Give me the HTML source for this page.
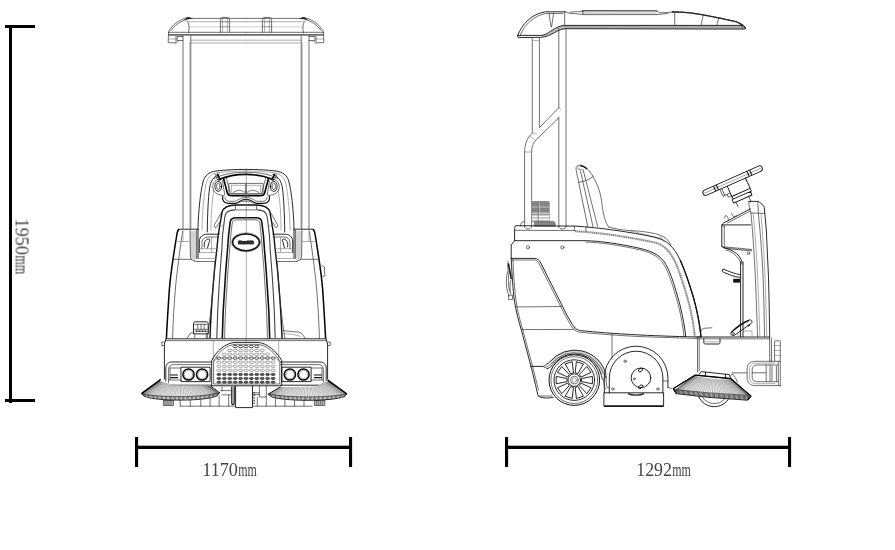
<!DOCTYPE html>
<html><head><meta charset="utf-8"><title>Sweeper dimensions</title>
<style>
html,body{margin:0;padding:0;background:#fff;}
body{width:895px;height:550px;overflow:hidden;font-family:"Liberation Serif",serif;}
svg{display:block}
.k{stroke:#111;stroke-width:.9;fill:none;stroke-linecap:round;stroke-linejoin:round}
.m{stroke:#333;stroke-width:.7;fill:none;stroke-linecap:round;stroke-linejoin:round}
.g{stroke:#777;stroke-width:.6;fill:none;stroke-linecap:round;stroke-linejoin:round}
.b{stroke:#000;stroke-width:1.6;fill:none;stroke-linecap:round;stroke-linejoin:round}
.w{fill:#fff}
</style></head><body>
<svg width="895" height="550" viewBox="0 0 895 550">
<rect width="895" height="550" fill="#fff"/>

<g fill="#000" stroke="none">
<rect x="9" y="25" width="3" height="378"/>
<rect x="5" y="25" width="30" height="3"/>
<rect x="5" y="399" width="30" height="3"/>
<rect x="135" y="445.7" width="217" height="3.3"/>
<rect x="135" y="437" width="3.1" height="30"/>
<rect x="349" y="437" width="3.1" height="30"/>
<rect x="505" y="445.7" width="286" height="3.3"/>
<rect x="505" y="437" width="3.1" height="30"/>
<rect x="788" y="437" width="3.1" height="30"/>
</g>
<g font-family="'Liberation Serif', serif" fill="#454545" font-size="19.6" style="opacity:.999">
<text x="202.2" y="476" textLength="35.8" lengthAdjust="spacingAndGlyphs">1170</text>
<text x="238.3" y="476" textLength="18.6" lengthAdjust="spacingAndGlyphs">mm</text>
<text x="636.2" y="476" textLength="35.8" lengthAdjust="spacingAndGlyphs">1292</text>
<text x="672.3" y="476" textLength="18.6" lengthAdjust="spacingAndGlyphs">mm</text>
<g transform="translate(15.6,218.4) rotate(90)">
<text x="0" y="0" textLength="36.6" lengthAdjust="spacingAndGlyphs">1950</text>
<text x="37" y="0" textLength="18.8" lengthAdjust="spacingAndGlyphs">mm</text>
</g>
</g>

<g><path class="m" d="M168.5,32.3 C170,27 178,19.6 188,17.4 L191,18.4 L246,18.4"/>
<path d="M183.5,20 L188,17 L193.5,18.6 L187,19.6 Z" fill="#222"/>
<path class="m" d="M171,30.5 C174,26 180,21 187,19.6"/>
<path class="g" d="M187.5,21.7 L246,21.7"/>
<path d="M189,26.8 L246,26.8" stroke="#aaa" stroke-width=".6" fill="none"/>
<path class="m" d="M187.5,21.7 C189.5,24 189.5,28 188.5,33"/>
<path class="m" d="M168.5,32.3 L246,32.3"/>
<path d="M168.3,34.9 L246,34.9" stroke="#6a6a6a" stroke-width="1.9" fill="none"/>
<path class="m" d="M168.6,32.3 L168.2,42.5 L176,43 M176,36 L176,43"/>
<path class="m" d="M177.5,36.5 L183,36.5 M178,40.5 L183,40.5 M178,36.5 C176.5,38 176.5,40 178,42"/>
<path class="g" d="M168.5,39 L176,39"/>
<path class="g" d="M190.8,40.2 L246,40.2"/>
<path class="g" d="M190.8,43 L246,43"/>
<path class="m" d="M220.4,32.3 L220.4,19.5 C220.4,17.8 221.5,17.4 223,17.4 L227,17.4 C228.6,17.4 229.6,17.8 229.6,19.5 L229.6,32.3"/>
<path class="g" d="M222.6,17.6 L222.6,32 M227.4,17.6 L227.4,32 M220.4,21.7 L229.6,21.7 M220.4,26.8 L229.6,26.8"/>
<path class="m" d="M183,36 L183,228.5 M190.8,36 L190.8,228.5"/>
<path class="g" d="M189.9,43 L189.9,228"/>
<path class="k" d="M198,258 L198,228 C198.5,210 200.5,192 203,182 C204.5,175.5 209,172 216,171 C226,169.8 236,169.4 246,169.4"/>
<path class="k" d="M207.3,232 C207.5,214 208.2,198 209.6,188 C210.6,181 213.5,176.5 219,174.6"/>
<path class="g" d="M202,230 C202.3,212 204,194 206,184 C207.5,177.5 211,174 217,172.8 C227,171.5 236,171 246,171"/>
<path class="g" d="M211,230 C211,214 212,200 214,190"/>
<path class="b" d="M219,179.6 C228,175.6 237,174.4 246,174.4"/>
<path class="m" d="M214.5,178.5 C224,173.2 236,172.3 246,172.3"/>
<path class="b" d="M223.4,178 L227.3,192.8 C227.8,194.9 229.4,195.7 232,195.7 L246,195.7"/>
<path class="m" d="M226.2,177.6 L229.9,191.8 C230.3,193.4 231.3,194 233,194 L246,194"/>
<path class="m" d="M222.5,180.8 L224.8,195.3"/>
<ellipse class="k" cx="218.3" cy="186.4" rx="3.4" ry="5"/>
<ellipse class="m" cx="218.3" cy="186.4" rx="1.8" ry="3.2"/>
<path class="m" d="M222,178.5 C215,179 212.5,183 212.8,187.5 C213,192 217,195 223.5,195.5"/>
<rect class="m" x="229.3" y="183.4" width="16.7" height="10.4"/>
<path class="g" d="M231.3,185.3 L246,185.3 M231.3,185.3 L231.3,192"/>
<path class="m" d="M233,192.5 C237,190 241,189.5 243,191.5 C244,192.3 245,192.3 246,191.5"/>
<path d="M222.8,196 C221.8,200 224,203.3 228,203.3 L235.5,203.3 C238.5,203.3 239.5,199.3 246,199.3" stroke="#111" stroke-width="1.2" fill="none"/>
<path class="m" d="M225,197.5 C225,200 227,201.3 229.5,201.3 L234.5,201.3 C237.5,201.3 239,197.5 246,197.5"/>
<path class="m" d="M238,203.3 C240,201.5 243,201.2 246,201.2"/>
<path d="M217.4,173.6 C217.8,176 219,178.4 221.1,179.8" stroke="#111" stroke-width="1.8" fill="none"/>
<path class="m" d="M215.5,174.5 C216,177.5 217.5,180 219.8,181.3"/>
<path d="M210,338.5 C210.6,320 211.8,302 213.1,286 C214.2,272 215.5,260 216.8,250 L218.1,236 C219.5,227 220.8,219 222.1,212.1 C223.2,208 228,205.2 236,205 L246,205" stroke="#111" stroke-width="1.4" fill="none"/>
<path d="M216.8,338.5 C217.2,320 218,302 219.1,286 C220,272 221,260 221.8,250 L222.5,236 L224.8,216.8 C225.5,212 229,209.9 235,209.9" stroke="#444" stroke-width="1.1" fill="none"/>
<path d="M222.3,338.5 C222.6,320 223.5,302 224.8,286 C225.6,272 226.6,260 227.5,250 L228.5,236 L230.2,222.1 C230.6,219 232.5,217.8 236,217.8 L246,217.8" stroke="#111" stroke-width="1.6" fill="none"/>
<path class="m" d="M224.6,338.5 C224.9,320 225.8,302 227,286 C227.8,272 228.8,260 229.7,250 L230.7,236 L232.2,223.5 C232.6,220.8 234,219.8 237,219.8 L246,219.8"/>
<path class="m" d="M235.5,206 L235.5,209.9 L246,209.9"/>
<path class="g" d="M219.4,226 L223.5,226"/>
<path class="m" d="M214.9,262 C213.6,285 211.2,310 208.4,330 L207.2,338.5"/>
<path class="m" d="M222.1,211.4 L214.4,224.8 C213.8,226.5 214.8,227.8 216.1,227.5 L219.2,222.5"/>
<path class="k" d="M179.3,229.2 L198.4,229.2"/>
<path d="M179.3,229.2 C177.6,230 177.2,232 176.8,235 C173,258 170.2,278 169.3,290 C168,310 167,325 166.4,338.5" stroke="#000" stroke-width="1.5" fill="none"/>
<path class="m" d="M182.6,231.5 C179,256 176.5,277 175.6,286 C174,305 173,322 172.6,338.5"/>
<path d="M190,231 L196.6,231 L196.6,258 L194,261 L190.3,256 Z" fill="#d4d4d4" stroke="none"/>
<path class="m" d="M190,230 L190.4,256 C190.6,259 192,261 195,261 M196.6,230 L196.6,258.5"/>
<path class="g" d="M178,241.5 L190,241.5 M183,229.5 L183,241.5"/>
<path class="m" d="M174,259.3 L191.6,259.3 M195,261.5 L215.5,261.5"/>
<path class="g" d="M196.6,258.5 L215.8,258.5"/>
<path class="k" d="M199.3,252.5 L199.3,241 C199.6,236.5 203,234.2 207,234.2 L219.3,234.2"/>
<path class="m" d="M202,249 L202,242 C202.5,238.5 205,237 208,237 L219,237"/>
<path class="k" d="M204.5,247 C203.5,243 205,239.5 208.5,239 C210,239 210,241 209,242.5 L207.5,248"/>
<path class="g" d="M199.3,248.7 L217.3,248.7 M199.3,252.5 L217,252.5 M211.5,237 L211.5,252"/>
<path class="k" d="M166,338.8 L246,338.8"/>
<path class="m" d="M166,340.6 L246,340.6"/>
<path class="k" d="M166,338.8 L164.4,344 L164.4,379"/>
<path class="m" d="M164.4,342 L161.8,342 L161.8,345.5 L164.4,345.5"/>
<path class="g" d="M213.3,340.6 L213.3,361"/>
<path class="k" d="M211.5,362 L172,362 C168,362 165.8,364.5 165.8,368 L165.8,381"/>
<path class="m" d="M211.5,364.6 L173.5,364.6 C170,364.6 168.6,366.3 168.6,369 L168.6,383"/>
<rect class="k" x="181.3" y="367.2" width="28.8" height="14.4"/>
<circle cx="188.5" cy="374.5" r="5.6" stroke="#000" stroke-width="1.5" fill="none"/>
<circle cx="202.1" cy="374.5" r="5.6" stroke="#000" stroke-width="1.5" fill="none"/>
<circle class="g" cx="188.5" cy="374.5" r="4.2"/><circle class="g" cx="202.1" cy="374.5" r="4.2"/>
<path d="M170,375 L178,375 M170,377.6 L178,377.6" stroke="#111" stroke-width="1.1" fill="none"/>
<path class="m" d="M170,368 L180.5,368 M170,368 L170,379.5 M168.6,380 L181.3,380"/>
<path class="k" d="M168,385.2 L211.5,385.2"/></g>
<g transform="translate(492,0) scale(-1,1)"><path class="m" d="M168.5,32.3 C170,27 178,19.6 188,17.4 L191,18.4 L246,18.4"/>
<path d="M183.5,20 L188,17 L193.5,18.6 L187,19.6 Z" fill="#222"/>
<path class="m" d="M171,30.5 C174,26 180,21 187,19.6"/>
<path class="g" d="M187.5,21.7 L246,21.7"/>
<path d="M189,26.8 L246,26.8" stroke="#aaa" stroke-width=".6" fill="none"/>
<path class="m" d="M187.5,21.7 C189.5,24 189.5,28 188.5,33"/>
<path class="m" d="M168.5,32.3 L246,32.3"/>
<path d="M168.3,34.9 L246,34.9" stroke="#6a6a6a" stroke-width="1.9" fill="none"/>
<path class="m" d="M168.6,32.3 L168.2,42.5 L176,43 M176,36 L176,43"/>
<path class="m" d="M177.5,36.5 L183,36.5 M178,40.5 L183,40.5 M178,36.5 C176.5,38 176.5,40 178,42"/>
<path class="g" d="M168.5,39 L176,39"/>
<path class="g" d="M190.8,40.2 L246,40.2"/>
<path class="g" d="M190.8,43 L246,43"/>
<path class="m" d="M220.4,32.3 L220.4,19.5 C220.4,17.8 221.5,17.4 223,17.4 L227,17.4 C228.6,17.4 229.6,17.8 229.6,19.5 L229.6,32.3"/>
<path class="g" d="M222.6,17.6 L222.6,32 M227.4,17.6 L227.4,32 M220.4,21.7 L229.6,21.7 M220.4,26.8 L229.6,26.8"/>
<path class="m" d="M183,36 L183,228.5 M190.8,36 L190.8,228.5"/>
<path class="g" d="M189.9,43 L189.9,228"/>
<path class="k" d="M198,258 L198,228 C198.5,210 200.5,192 203,182 C204.5,175.5 209,172 216,171 C226,169.8 236,169.4 246,169.4"/>
<path class="k" d="M207.3,232 C207.5,214 208.2,198 209.6,188 C210.6,181 213.5,176.5 219,174.6"/>
<path class="g" d="M202,230 C202.3,212 204,194 206,184 C207.5,177.5 211,174 217,172.8 C227,171.5 236,171 246,171"/>
<path class="g" d="M211,230 C211,214 212,200 214,190"/>
<path class="b" d="M219,179.6 C228,175.6 237,174.4 246,174.4"/>
<path class="m" d="M214.5,178.5 C224,173.2 236,172.3 246,172.3"/>
<path class="b" d="M223.4,178 L227.3,192.8 C227.8,194.9 229.4,195.7 232,195.7 L246,195.7"/>
<path class="m" d="M226.2,177.6 L229.9,191.8 C230.3,193.4 231.3,194 233,194 L246,194"/>
<path class="m" d="M222.5,180.8 L224.8,195.3"/>
<ellipse class="k" cx="218.3" cy="186.4" rx="3.4" ry="5"/>
<ellipse class="m" cx="218.3" cy="186.4" rx="1.8" ry="3.2"/>
<path class="m" d="M222,178.5 C215,179 212.5,183 212.8,187.5 C213,192 217,195 223.5,195.5"/>
<rect class="m" x="229.3" y="183.4" width="16.7" height="10.4"/>
<path class="g" d="M231.3,185.3 L246,185.3 M231.3,185.3 L231.3,192"/>
<path class="m" d="M233,192.5 C237,190 241,189.5 243,191.5 C244,192.3 245,192.3 246,191.5"/>
<path d="M222.8,196 C221.8,200 224,203.3 228,203.3 L235.5,203.3 C238.5,203.3 239.5,199.3 246,199.3" stroke="#111" stroke-width="1.2" fill="none"/>
<path class="m" d="M225,197.5 C225,200 227,201.3 229.5,201.3 L234.5,201.3 C237.5,201.3 239,197.5 246,197.5"/>
<path class="m" d="M238,203.3 C240,201.5 243,201.2 246,201.2"/>
<path d="M217.4,173.6 C217.8,176 219,178.4 221.1,179.8" stroke="#111" stroke-width="1.8" fill="none"/>
<path class="m" d="M215.5,174.5 C216,177.5 217.5,180 219.8,181.3"/>
<path d="M210,338.5 C210.6,320 211.8,302 213.1,286 C214.2,272 215.5,260 216.8,250 L218.1,236 C219.5,227 220.8,219 222.1,212.1 C223.2,208 228,205.2 236,205 L246,205" stroke="#111" stroke-width="1.4" fill="none"/>
<path d="M216.8,338.5 C217.2,320 218,302 219.1,286 C220,272 221,260 221.8,250 L222.5,236 L224.8,216.8 C225.5,212 229,209.9 235,209.9" stroke="#444" stroke-width="1.1" fill="none"/>
<path d="M222.3,338.5 C222.6,320 223.5,302 224.8,286 C225.6,272 226.6,260 227.5,250 L228.5,236 L230.2,222.1 C230.6,219 232.5,217.8 236,217.8 L246,217.8" stroke="#111" stroke-width="1.6" fill="none"/>
<path class="m" d="M224.6,338.5 C224.9,320 225.8,302 227,286 C227.8,272 228.8,260 229.7,250 L230.7,236 L232.2,223.5 C232.6,220.8 234,219.8 237,219.8 L246,219.8"/>
<path class="m" d="M235.5,206 L235.5,209.9 L246,209.9"/>
<path class="g" d="M219.4,226 L223.5,226"/>
<path class="m" d="M214.9,262 C213.6,285 211.2,310 208.4,330 L207.2,338.5"/>
<path class="m" d="M222.1,211.4 L214.4,224.8 C213.8,226.5 214.8,227.8 216.1,227.5 L219.2,222.5"/>
<path class="k" d="M179.3,229.2 L198.4,229.2"/>
<path d="M179.3,229.2 C177.6,230 177.2,232 176.8,235 C173,258 170.2,278 169.3,290 C168,310 167,325 166.4,338.5" stroke="#000" stroke-width="1.5" fill="none"/>
<path class="m" d="M182.6,231.5 C179,256 176.5,277 175.6,286 C174,305 173,322 172.6,338.5"/>
<path d="M190,231 L196.6,231 L196.6,258 L194,261 L190.3,256 Z" fill="#d4d4d4" stroke="none"/>
<path class="m" d="M190,230 L190.4,256 C190.6,259 192,261 195,261 M196.6,230 L196.6,258.5"/>
<path class="g" d="M178,241.5 L190,241.5 M183,229.5 L183,241.5"/>
<path class="m" d="M174,259.3 L191.6,259.3 M195,261.5 L215.5,261.5"/>
<path class="g" d="M196.6,258.5 L215.8,258.5"/>
<path class="k" d="M199.3,252.5 L199.3,241 C199.6,236.5 203,234.2 207,234.2 L219.3,234.2"/>
<path class="m" d="M202,249 L202,242 C202.5,238.5 205,237 208,237 L219,237"/>
<path class="k" d="M204.5,247 C203.5,243 205,239.5 208.5,239 C210,239 210,241 209,242.5 L207.5,248"/>
<path class="g" d="M199.3,248.7 L217.3,248.7 M199.3,252.5 L217,252.5 M211.5,237 L211.5,252"/>
<path class="k" d="M166,338.8 L246,338.8"/>
<path class="m" d="M166,340.6 L246,340.6"/>
<path class="k" d="M166,338.8 L164.4,344 L164.4,379"/>
<path class="m" d="M164.4,342 L161.8,342 L161.8,345.5 L164.4,345.5"/>
<path class="g" d="M213.3,340.6 L213.3,361"/>
<path class="k" d="M211.5,362 L172,362 C168,362 165.8,364.5 165.8,368 L165.8,381"/>
<path class="m" d="M211.5,364.6 L173.5,364.6 C170,364.6 168.6,366.3 168.6,369 L168.6,383"/>
<rect class="k" x="181.3" y="367.2" width="28.8" height="14.4"/>
<circle cx="188.5" cy="374.5" r="5.6" stroke="#000" stroke-width="1.5" fill="none"/>
<circle cx="202.1" cy="374.5" r="5.6" stroke="#000" stroke-width="1.5" fill="none"/>
<circle class="g" cx="188.5" cy="374.5" r="4.2"/><circle class="g" cx="202.1" cy="374.5" r="4.2"/>
<path d="M170,375 L178,375 M170,377.6 L178,377.6" stroke="#111" stroke-width="1.1" fill="none"/>
<path class="m" d="M170,368 L180.5,368 M170,368 L170,379.5 M168.6,380 L181.3,380"/>
<path class="k" d="M168,385.2 L211.5,385.2"/></g>
<path class="g" d="M246.3,170 L246.3,342"/>
<ellipse cx="246" cy="242.3" rx="13.4" ry="8.5" fill="#fff" stroke="#111" stroke-width="1.7"/>
<ellipse class="g" cx="246" cy="242.3" rx="14.6" ry="9.6"/>
<rect x="237.9" y="240.9" width="16" height="3.5" fill="#2b2b2b"/><rect x="238.6" y="240.3" width="3" height="1" fill="#444"/><rect x="247" y="240.3" width="6" height="1" fill="#555"/>
<path class="k" d="M193.5,333.5 L193.5,323.5 C193.5,322.3 194.3,321.8 195.5,321.8 L206.2,321.8 C207.4,321.8 208.2,322.3 208.2,323.5 L208.2,333.5 Z"/>
<path class="m" d="M194.5,324.3 L207.3,324.3 M194.5,329.3 L207.3,329.3 M197.8,324.3 L197.8,329.3 M201,324.3 L201,329.3 M204.2,324.3 L204.2,329.3"/>
<path d="M195.5,331.3 L206.5,331.3" stroke="#222" stroke-width="1.6" stroke-dasharray="2.2,0.8" fill="none"/>
<path class="m" d="M194.8,333.5 L194.8,338.5 M206.3,333.5 L206.3,338.5 M187,338.5 L190.5,333 L193.5,333"/>
<path class="m" d="M321.8,265.5 L324.4,267 L324.8,276 L322.8,276.5"/>
<path class="m" d="M283.5,330.6 C288,331.5 293,331.5 298.6,332 C301.5,332.5 303.5,335 304.8,338.3"/>
<path class="g" d="M283,333.5 C290,334 296,334.5 300.5,336.5"/>
<path class="k" d="M211.7,385.4 L211.7,360.5 C216,352 225,342.4 236,342.4 L257,342.4 C267,342.4 277,352 281.7,360.5 L281.7,385.4 Z" fill="#fff"/>
<path class="m" d="M213.6,383.6 L213.6,361.5 C217.5,353.5 226,344.3 236.5,344.3 L256.5,344.3 C266.5,344.3 275.5,353.5 279.8,361.5 L279.8,383.6 Z"/>
<path class="g" d="M213.6,361.5 L218,358 M279.8,361.5 L275.4,358"/>
<ellipse cx="235.2" cy="346.5" rx="2.2" ry="1.2" fill="none" stroke="#222" stroke-width=".8"/><ellipse cx="240.6" cy="346.5" rx="2.2" ry="1.2" fill="none" stroke="#222" stroke-width=".8"/><ellipse cx="246.0" cy="346.5" rx="2.2" ry="1.2" fill="none" stroke="#222" stroke-width=".8"/><ellipse cx="251.4" cy="346.5" rx="2.2" ry="1.2" fill="none" stroke="#222" stroke-width=".8"/><ellipse cx="256.8" cy="346.5" rx="2.2" ry="1.2" fill="none" stroke="#222" stroke-width=".8"/><ellipse cx="229.8" cy="350.4" rx="2.2" ry="1.2" fill="none" stroke="#666" stroke-width=".6"/><ellipse cx="235.2" cy="350.4" rx="2.2" ry="1.2" fill="none" stroke="#666" stroke-width=".6"/><ellipse cx="240.6" cy="350.4" rx="2.2" ry="1.2" fill="none" stroke="#666" stroke-width=".6"/><ellipse cx="246.0" cy="350.4" rx="2.2" ry="1.2" fill="none" stroke="#666" stroke-width=".6"/><ellipse cx="251.4" cy="350.4" rx="2.2" ry="1.2" fill="none" stroke="#666" stroke-width=".6"/><ellipse cx="256.8" cy="350.4" rx="2.2" ry="1.2" fill="none" stroke="#666" stroke-width=".6"/><ellipse cx="262.2" cy="350.4" rx="2.2" ry="1.2" fill="none" stroke="#666" stroke-width=".6"/><ellipse cx="224.4" cy="354.3" rx="2.2" ry="1.2" fill="none" stroke="#666" stroke-width=".6"/><ellipse cx="229.8" cy="354.3" rx="2.2" ry="1.2" fill="none" stroke="#666" stroke-width=".6"/><ellipse cx="235.2" cy="354.3" rx="2.2" ry="1.2" fill="none" stroke="#666" stroke-width=".6"/><ellipse cx="240.6" cy="354.3" rx="2.2" ry="1.2" fill="none" stroke="#666" stroke-width=".6"/><ellipse cx="246.0" cy="354.3" rx="2.2" ry="1.2" fill="none" stroke="#666" stroke-width=".6"/><ellipse cx="251.4" cy="354.3" rx="2.2" ry="1.2" fill="none" stroke="#666" stroke-width=".6"/><ellipse cx="256.8" cy="354.3" rx="2.2" ry="1.2" fill="none" stroke="#666" stroke-width=".6"/><ellipse cx="262.2" cy="354.3" rx="2.2" ry="1.2" fill="none" stroke="#666" stroke-width=".6"/><ellipse cx="267.6" cy="354.3" rx="2.2" ry="1.2" fill="none" stroke="#666" stroke-width=".6"/><ellipse cx="218.9" cy="358.1" rx="2.2" ry="1.2" fill="none" stroke="#222" stroke-width=".8"/><ellipse cx="224.4" cy="358.1" rx="2.2" ry="1.2" fill="none" stroke="#222" stroke-width=".8"/><ellipse cx="229.8" cy="358.1" rx="2.2" ry="1.2" fill="none" stroke="#222" stroke-width=".8"/><ellipse cx="235.2" cy="358.1" rx="2.2" ry="1.2" fill="none" stroke="#222" stroke-width=".8"/><ellipse cx="240.6" cy="358.1" rx="2.2" ry="1.2" fill="none" stroke="#222" stroke-width=".8"/><ellipse cx="246.0" cy="358.1" rx="2.2" ry="1.2" fill="none" stroke="#222" stroke-width=".8"/><ellipse cx="251.4" cy="358.1" rx="2.2" ry="1.2" fill="none" stroke="#222" stroke-width=".8"/><ellipse cx="256.8" cy="358.1" rx="2.2" ry="1.2" fill="none" stroke="#222" stroke-width=".8"/><ellipse cx="262.2" cy="358.1" rx="2.2" ry="1.2" fill="none" stroke="#222" stroke-width=".8"/><ellipse cx="267.6" cy="358.1" rx="2.2" ry="1.2" fill="none" stroke="#222" stroke-width=".8"/><ellipse cx="273.1" cy="358.1" rx="2.2" ry="1.2" fill="none" stroke="#222" stroke-width=".8"/><ellipse cx="218.9" cy="362.1" rx="2.2" ry="1.2" fill="none" stroke="#666" stroke-width=".6"/><ellipse cx="224.4" cy="362.1" rx="2.2" ry="1.2" fill="none" stroke="#666" stroke-width=".6"/><ellipse cx="229.8" cy="362.1" rx="2.2" ry="1.2" fill="none" stroke="#666" stroke-width=".6"/><ellipse cx="235.2" cy="362.1" rx="2.2" ry="1.2" fill="none" stroke="#666" stroke-width=".6"/><ellipse cx="240.6" cy="362.1" rx="2.2" ry="1.2" fill="none" stroke="#666" stroke-width=".6"/><ellipse cx="246.0" cy="362.1" rx="2.2" ry="1.2" fill="none" stroke="#666" stroke-width=".6"/><ellipse cx="251.4" cy="362.1" rx="2.2" ry="1.2" fill="none" stroke="#666" stroke-width=".6"/><ellipse cx="256.8" cy="362.1" rx="2.2" ry="1.2" fill="none" stroke="#666" stroke-width=".6"/><ellipse cx="262.2" cy="362.1" rx="2.2" ry="1.2" fill="none" stroke="#666" stroke-width=".6"/><ellipse cx="267.6" cy="362.1" rx="2.2" ry="1.2" fill="none" stroke="#666" stroke-width=".6"/><ellipse cx="273.1" cy="362.1" rx="2.2" ry="1.2" fill="none" stroke="#666" stroke-width=".6"/><ellipse cx="218.9" cy="366.3" rx="2.2" ry="1.2" fill="none" stroke="#666" stroke-width=".6"/><ellipse cx="224.4" cy="366.3" rx="2.2" ry="1.2" fill="none" stroke="#666" stroke-width=".6"/><ellipse cx="229.8" cy="366.3" rx="2.2" ry="1.2" fill="none" stroke="#666" stroke-width=".6"/><ellipse cx="235.2" cy="366.3" rx="2.2" ry="1.2" fill="none" stroke="#666" stroke-width=".6"/><ellipse cx="240.6" cy="366.3" rx="2.2" ry="1.2" fill="none" stroke="#666" stroke-width=".6"/><ellipse cx="246.0" cy="366.3" rx="2.2" ry="1.2" fill="none" stroke="#666" stroke-width=".6"/><ellipse cx="251.4" cy="366.3" rx="2.2" ry="1.2" fill="none" stroke="#666" stroke-width=".6"/><ellipse cx="256.8" cy="366.3" rx="2.2" ry="1.2" fill="none" stroke="#666" stroke-width=".6"/><ellipse cx="262.2" cy="366.3" rx="2.2" ry="1.2" fill="none" stroke="#666" stroke-width=".6"/><ellipse cx="267.6" cy="366.3" rx="2.2" ry="1.2" fill="none" stroke="#666" stroke-width=".6"/><ellipse cx="273.1" cy="366.3" rx="2.2" ry="1.2" fill="none" stroke="#666" stroke-width=".6"/><ellipse cx="218.9" cy="370.3" rx="2.2" ry="1.2" fill="none" stroke="#666" stroke-width=".6"/><ellipse cx="224.4" cy="370.3" rx="2.2" ry="1.2" fill="none" stroke="#666" stroke-width=".6"/><ellipse cx="229.8" cy="370.3" rx="2.2" ry="1.2" fill="none" stroke="#666" stroke-width=".6"/><ellipse cx="235.2" cy="370.3" rx="2.2" ry="1.2" fill="none" stroke="#666" stroke-width=".6"/><ellipse cx="240.6" cy="370.3" rx="2.2" ry="1.2" fill="none" stroke="#666" stroke-width=".6"/><ellipse cx="246.0" cy="370.3" rx="2.2" ry="1.2" fill="none" stroke="#666" stroke-width=".6"/><ellipse cx="251.4" cy="370.3" rx="2.2" ry="1.2" fill="none" stroke="#666" stroke-width=".6"/><ellipse cx="256.8" cy="370.3" rx="2.2" ry="1.2" fill="none" stroke="#666" stroke-width=".6"/><ellipse cx="262.2" cy="370.3" rx="2.2" ry="1.2" fill="none" stroke="#666" stroke-width=".6"/><ellipse cx="267.6" cy="370.3" rx="2.2" ry="1.2" fill="none" stroke="#666" stroke-width=".6"/><ellipse cx="273.1" cy="370.3" rx="2.2" ry="1.2" fill="none" stroke="#666" stroke-width=".6"/><ellipse cx="218.9" cy="374.5" rx="2.1" ry="1.15" fill="#555" stroke="#222" stroke-width=".5"/><ellipse cx="224.4" cy="374.5" rx="2.1" ry="1.15" fill="#555" stroke="#222" stroke-width=".5"/><ellipse cx="229.8" cy="374.5" rx="2.1" ry="1.15" fill="#555" stroke="#222" stroke-width=".5"/><ellipse cx="235.2" cy="374.5" rx="2.1" ry="1.15" fill="#555" stroke="#222" stroke-width=".5"/><ellipse cx="240.6" cy="374.5" rx="2.1" ry="1.15" fill="#555" stroke="#222" stroke-width=".5"/><ellipse cx="246.0" cy="374.5" rx="2.1" ry="1.15" fill="#555" stroke="#222" stroke-width=".5"/><ellipse cx="251.4" cy="374.5" rx="2.1" ry="1.15" fill="#555" stroke="#222" stroke-width=".5"/><ellipse cx="256.8" cy="374.5" rx="2.1" ry="1.15" fill="#555" stroke="#222" stroke-width=".5"/><ellipse cx="262.2" cy="374.5" rx="2.1" ry="1.15" fill="#555" stroke="#222" stroke-width=".5"/><ellipse cx="267.6" cy="374.5" rx="2.1" ry="1.15" fill="#555" stroke="#222" stroke-width=".5"/><ellipse cx="273.1" cy="374.5" rx="2.1" ry="1.15" fill="#555" stroke="#222" stroke-width=".5"/><ellipse cx="218.9" cy="378.5" rx="2.1" ry="1.15" fill="#555" stroke="#222" stroke-width=".5"/><ellipse cx="224.4" cy="378.5" rx="2.1" ry="1.15" fill="#555" stroke="#222" stroke-width=".5"/><ellipse cx="229.8" cy="378.5" rx="2.1" ry="1.15" fill="#555" stroke="#222" stroke-width=".5"/><ellipse cx="235.2" cy="378.5" rx="2.1" ry="1.15" fill="#555" stroke="#222" stroke-width=".5"/><ellipse cx="240.6" cy="378.5" rx="2.1" ry="1.15" fill="#555" stroke="#222" stroke-width=".5"/><ellipse cx="246.0" cy="378.5" rx="2.1" ry="1.15" fill="#555" stroke="#222" stroke-width=".5"/><ellipse cx="251.4" cy="378.5" rx="2.1" ry="1.15" fill="#555" stroke="#222" stroke-width=".5"/><ellipse cx="256.8" cy="378.5" rx="2.1" ry="1.15" fill="#555" stroke="#222" stroke-width=".5"/><ellipse cx="262.2" cy="378.5" rx="2.1" ry="1.15" fill="#555" stroke="#222" stroke-width=".5"/><ellipse cx="267.6" cy="378.5" rx="2.1" ry="1.15" fill="#555" stroke="#222" stroke-width=".5"/><ellipse cx="273.1" cy="378.5" rx="2.1" ry="1.15" fill="#555" stroke="#222" stroke-width=".5"/><ellipse cx="218.9" cy="382.2" rx="2.1" ry="1.15" fill="#555" stroke="#222" stroke-width=".5"/><ellipse cx="224.4" cy="382.2" rx="2.1" ry="1.15" fill="#555" stroke="#222" stroke-width=".5"/><ellipse cx="229.8" cy="382.2" rx="2.1" ry="1.15" fill="#555" stroke="#222" stroke-width=".5"/><ellipse cx="235.2" cy="382.2" rx="2.1" ry="1.15" fill="#555" stroke="#222" stroke-width=".5"/><ellipse cx="240.6" cy="382.2" rx="2.1" ry="1.15" fill="#555" stroke="#222" stroke-width=".5"/><ellipse cx="246.0" cy="382.2" rx="2.1" ry="1.15" fill="#555" stroke="#222" stroke-width=".5"/><ellipse cx="251.4" cy="382.2" rx="2.1" ry="1.15" fill="#555" stroke="#222" stroke-width=".5"/><ellipse cx="256.8" cy="382.2" rx="2.1" ry="1.15" fill="#555" stroke="#222" stroke-width=".5"/><ellipse cx="262.2" cy="382.2" rx="2.1" ry="1.15" fill="#555" stroke="#222" stroke-width=".5"/><ellipse cx="267.6" cy="382.2" rx="2.1" ry="1.15" fill="#555" stroke="#222" stroke-width=".5"/><ellipse cx="273.1" cy="382.2" rx="2.1" ry="1.15" fill="#555" stroke="#222" stroke-width=".5"/>
<path class="k" d="M235.6,386.2 L235.6,407.6 L252.5,407.6 L252.5,386.2"/>
<path d="M231.8,386.5 L231.8,403 C231.8,405.3 234.2,405.3 234.2,403 L234.2,386.5" stroke="#111" stroke-width="1.2" fill="none"/>
<path class="m" d="M220.7,390.6 L231.8,390.6 M222,394.9 L231.8,394.9 M228.7,395 L228.7,406.2 M219.1,396 L219.1,406.2 M210.1,398.5 L210.1,406.2 M200.8,400.3 L200.8,406.2 M190.3,400.5 L190.3,406.2 M180.2,400.5 L180.2,406.2 M180.2,406.2 L235.6,406.2 M222,387 L222,391"/>
<path d="M254.1,392 L254.1,404.5" stroke="#222" stroke-width="1.1" stroke-dasharray="1.6,1" fill="none"/>
<path class="m" d="M259.4,386.2 L259.4,397 L266.3,397 L266.3,386.2 M252.5,392.7 L259.4,392.7 M252.5,394.5 L259.4,394.5 M257.3,397 L257.3,406.2 M266.3,397 L266.3,406.2 M275.4,398.6 L275.4,406.2 M284.9,400.3 L284.9,406.2 M294.5,400.5 L294.5,406.2 M304,400.5 L304,406.2 M252.5,406.2 L312,406.2"/>
<rect x="163.2" y="400.3" width="10.4" height="5.4" fill="#b5b5b5" stroke="#333" stroke-width=".6"/>
<path d="M165,400.3 L165,405.7 M167,400.3 L167,405.7 M169,400.3 L169,405.7 M171,400.3 L171,405.7" stroke="#555" stroke-width=".6"/>
<rect x="314.5" y="400.3" width="10.4" height="5.4" fill="#b5b5b5" stroke="#333" stroke-width=".6"/>
<path d="M316.5,400.3 L316.5,405.7 M318.5,400.3 L318.5,405.7 M320.5,400.3 L320.5,405.7 M322.5,400.3 L322.5,405.7" stroke="#555" stroke-width=".6"/>
<defs><clipPath id="cbl"><polygon points="141.5,393.6 160.6,379.5 165.2,382 171.2,385.6 210.4,385.6 219.5,392.6 217.4,395.6 208.4,398.6 178.2,400.1 158.1,399.1 144,396.1"/></clipPath><clipPath id="cbr"><polygon points="346.9,394 327.8,380.2 323,382.5 317,386.6 280,387.2 268.3,394 270.4,396.3 279.4,398.9 309.6,400.3 329.7,399.4 344.2,396.6"/></clipPath></defs>
<polygon points="141.5,393.6 160.6,379.5 165.2,382 171.2,385.6 210.4,385.6 219.5,392.6 217.4,395.6 208.4,398.6 178.2,400.1 158.1,399.1 144,396.1" fill="#fff"/><polygon points="346.9,394 327.8,380.2 323,382.5 317,386.6 280,387.2 268.3,394 270.4,396.3 279.4,398.9 309.6,400.3 329.7,399.4 344.2,396.6" fill="#fff"/>
<g clip-path="url(#cbl)" stroke="#333" stroke-width=".36"><line x1="219.5" y1="393.3" x2="201.5" y2="380.5"/><line x1="219.5" y1="393.5" x2="201.5" y2="380.6"/><line x1="219.3" y1="393.7" x2="201.4" y2="380.8"/><line x1="219.1" y1="393.9" x2="201.3" y2="380.9"/><line x1="218.8" y1="394.1" x2="201.1" y2="381.1"/><line x1="218.3" y1="394.3" x2="200.9" y2="381.2"/><line x1="217.8" y1="394.5" x2="200.6" y2="381.4"/><line x1="217.2" y1="394.7" x2="200.3" y2="381.5"/><line x1="216.5" y1="394.9" x2="199.9" y2="381.6"/><line x1="215.8" y1="395.1" x2="199.5" y2="381.8"/><line x1="214.9" y1="395.3" x2="199.0" y2="381.9"/><line x1="214.0" y1="395.5" x2="198.5" y2="382.0"/><line x1="212.9" y1="395.6" x2="198.0" y2="382.2"/><line x1="211.8" y1="395.8" x2="197.4" y2="382.3"/><line x1="210.6" y1="396.0" x2="196.7" y2="382.4"/><line x1="209.4" y1="396.1" x2="196.1" y2="382.5"/><line x1="208.1" y1="396.3" x2="195.3" y2="382.6"/><line x1="206.7" y1="396.4" x2="194.6" y2="382.7"/><line x1="205.2" y1="396.5" x2="193.8" y2="382.8"/><line x1="203.7" y1="396.7" x2="193.0" y2="382.9"/><line x1="202.2" y1="396.8" x2="192.2" y2="383.0"/><line x1="200.6" y1="396.9" x2="191.3" y2="383.1"/><line x1="198.9" y1="397.0" x2="190.4" y2="383.1"/><line x1="197.2" y1="397.1" x2="189.5" y2="383.2"/><line x1="195.4" y1="397.2" x2="188.5" y2="383.3"/><line x1="193.6" y1="397.3" x2="187.6" y2="383.3"/><line x1="191.8" y1="397.3" x2="186.6" y2="383.4"/><line x1="190.0" y1="397.4" x2="185.6" y2="383.4"/><line x1="188.1" y1="397.4" x2="184.6" y2="383.4"/><line x1="186.2" y1="397.5" x2="183.6" y2="383.5"/><line x1="184.3" y1="397.5" x2="182.6" y2="383.5"/><line x1="182.4" y1="397.5" x2="181.5" y2="383.5"/><line x1="180.5" y1="397.5" x2="180.5" y2="383.5"/><line x1="178.6" y1="397.5" x2="179.5" y2="383.5"/><line x1="176.7" y1="397.5" x2="178.4" y2="383.5"/><line x1="174.8" y1="397.5" x2="177.4" y2="383.5"/><line x1="172.9" y1="397.4" x2="176.4" y2="383.4"/><line x1="171.0" y1="397.4" x2="175.4" y2="383.4"/><line x1="169.2" y1="397.3" x2="174.4" y2="383.4"/><line x1="167.4" y1="397.3" x2="173.4" y2="383.3"/><line x1="165.6" y1="397.2" x2="172.5" y2="383.3"/><line x1="163.8" y1="397.1" x2="171.5" y2="383.2"/><line x1="162.1" y1="397.0" x2="170.6" y2="383.1"/><line x1="160.4" y1="396.9" x2="169.7" y2="383.1"/><line x1="158.8" y1="396.8" x2="168.8" y2="383.0"/><line x1="157.3" y1="396.7" x2="168.0" y2="382.9"/><line x1="155.8" y1="396.5" x2="167.2" y2="382.8"/><line x1="154.3" y1="396.4" x2="166.4" y2="382.7"/><line x1="152.9" y1="396.3" x2="165.7" y2="382.6"/><line x1="151.6" y1="396.1" x2="164.9" y2="382.5"/><line x1="150.4" y1="396.0" x2="164.3" y2="382.4"/><line x1="149.2" y1="395.8" x2="163.6" y2="382.3"/><line x1="148.1" y1="395.6" x2="163.0" y2="382.2"/><line x1="147.0" y1="395.5" x2="162.5" y2="382.0"/><line x1="146.1" y1="395.3" x2="162.0" y2="381.9"/><line x1="145.2" y1="395.1" x2="161.5" y2="381.8"/><line x1="144.5" y1="394.9" x2="161.1" y2="381.6"/><line x1="143.8" y1="394.7" x2="160.7" y2="381.5"/><line x1="143.2" y1="394.5" x2="160.4" y2="381.4"/><line x1="142.7" y1="394.3" x2="160.1" y2="381.2"/><line x1="142.2" y1="394.1" x2="159.9" y2="381.1"/><line x1="141.9" y1="393.9" x2="159.7" y2="380.9"/><line x1="141.7" y1="393.7" x2="159.6" y2="380.8"/><line x1="141.5" y1="393.5" x2="159.5" y2="380.6"/><line x1="141.5" y1="393.3" x2="159.5" y2="380.5"/><path d="M142,394.6 C150,397.6 165,398.4 180,398.4 C195,398.4 211,397 218.5,394" stroke="#333" stroke-width="3.4" fill="none" stroke-dasharray=".6,.7"/></g>
<g clip-path="url(#cbr)" stroke="#333" stroke-width=".36"><line x1="346.6" y1="393.3" x2="328.6" y2="380.5"/><line x1="346.6" y1="393.5" x2="328.6" y2="380.6"/><line x1="346.4" y1="393.7" x2="328.5" y2="380.8"/><line x1="346.2" y1="393.9" x2="328.4" y2="380.9"/><line x1="345.9" y1="394.1" x2="328.2" y2="381.1"/><line x1="345.4" y1="394.3" x2="328.0" y2="381.2"/><line x1="344.9" y1="394.5" x2="327.7" y2="381.4"/><line x1="344.3" y1="394.7" x2="327.4" y2="381.5"/><line x1="343.6" y1="394.9" x2="327.0" y2="381.6"/><line x1="342.9" y1="395.1" x2="326.6" y2="381.8"/><line x1="342.0" y1="395.3" x2="326.1" y2="381.9"/><line x1="341.1" y1="395.5" x2="325.6" y2="382.0"/><line x1="340.0" y1="395.6" x2="325.1" y2="382.2"/><line x1="338.9" y1="395.8" x2="324.5" y2="382.3"/><line x1="337.7" y1="396.0" x2="323.8" y2="382.4"/><line x1="336.5" y1="396.1" x2="323.2" y2="382.5"/><line x1="335.2" y1="396.3" x2="322.4" y2="382.6"/><line x1="333.8" y1="396.4" x2="321.7" y2="382.7"/><line x1="332.3" y1="396.5" x2="320.9" y2="382.8"/><line x1="330.8" y1="396.7" x2="320.1" y2="382.9"/><line x1="329.3" y1="396.8" x2="319.3" y2="383.0"/><line x1="327.7" y1="396.9" x2="318.4" y2="383.1"/><line x1="326.0" y1="397.0" x2="317.5" y2="383.1"/><line x1="324.3" y1="397.1" x2="316.6" y2="383.2"/><line x1="322.5" y1="397.2" x2="315.6" y2="383.3"/><line x1="320.7" y1="397.3" x2="314.7" y2="383.3"/><line x1="318.9" y1="397.3" x2="313.7" y2="383.4"/><line x1="317.1" y1="397.4" x2="312.7" y2="383.4"/><line x1="315.2" y1="397.4" x2="311.7" y2="383.4"/><line x1="313.3" y1="397.5" x2="310.7" y2="383.5"/><line x1="311.4" y1="397.5" x2="309.7" y2="383.5"/><line x1="309.5" y1="397.5" x2="308.6" y2="383.5"/><line x1="307.6" y1="397.5" x2="307.6" y2="383.5"/><line x1="305.7" y1="397.5" x2="306.6" y2="383.5"/><line x1="303.8" y1="397.5" x2="305.5" y2="383.5"/><line x1="301.9" y1="397.5" x2="304.5" y2="383.5"/><line x1="300.0" y1="397.4" x2="303.5" y2="383.4"/><line x1="298.1" y1="397.4" x2="302.5" y2="383.4"/><line x1="296.3" y1="397.3" x2="301.5" y2="383.4"/><line x1="294.5" y1="397.3" x2="300.5" y2="383.3"/><line x1="292.7" y1="397.2" x2="299.6" y2="383.3"/><line x1="290.9" y1="397.1" x2="298.6" y2="383.2"/><line x1="289.2" y1="397.0" x2="297.7" y2="383.1"/><line x1="287.5" y1="396.9" x2="296.8" y2="383.1"/><line x1="285.9" y1="396.8" x2="295.9" y2="383.0"/><line x1="284.4" y1="396.7" x2="295.1" y2="382.9"/><line x1="282.9" y1="396.5" x2="294.3" y2="382.8"/><line x1="281.4" y1="396.4" x2="293.5" y2="382.7"/><line x1="280.0" y1="396.3" x2="292.8" y2="382.6"/><line x1="278.7" y1="396.1" x2="292.0" y2="382.5"/><line x1="277.5" y1="396.0" x2="291.4" y2="382.4"/><line x1="276.3" y1="395.8" x2="290.7" y2="382.3"/><line x1="275.2" y1="395.6" x2="290.1" y2="382.2"/><line x1="274.1" y1="395.5" x2="289.6" y2="382.0"/><line x1="273.2" y1="395.3" x2="289.1" y2="381.9"/><line x1="272.3" y1="395.1" x2="288.6" y2="381.8"/><line x1="271.6" y1="394.9" x2="288.2" y2="381.6"/><line x1="270.9" y1="394.7" x2="287.8" y2="381.5"/><line x1="270.3" y1="394.5" x2="287.5" y2="381.4"/><line x1="269.8" y1="394.3" x2="287.2" y2="381.2"/><line x1="269.3" y1="394.1" x2="287.0" y2="381.1"/><line x1="269.0" y1="393.9" x2="286.8" y2="380.9"/><line x1="268.8" y1="393.7" x2="286.7" y2="380.8"/><line x1="268.6" y1="393.5" x2="286.6" y2="380.6"/><line x1="268.6" y1="393.3" x2="286.6" y2="380.5"/><path d="M269,394.8 C276,397.4 295,398.6 308,398.6 C322,398.6 338,398 346.2,395" stroke="#333" stroke-width="3.4" fill="none" stroke-dasharray=".6,.7"/></g>
<path class="k" d="M160.6,379.5 L141.5,393.6 L144,396.1 M219.5,392.6 L210.4,385.8"/>
<path class="m" d="M141.5,393.6 C150,395.8 165,396.6 180,396.6 C195,396.6 210,395.2 219.5,392.6"/>
<path class="k" d="M144,396.1 C150,399 165,400.1 180,400.1 C197,400.1 212,398.6 217.4,395.6 L219.5,392.6"/>
<path class="k" d="M327.8,380.2 L346.9,394 L344.2,396.6 M268.3,394 L280,387.2"/>
<path class="m" d="M346.9,394 C338,396 322,396.9 308,396.9 C294,396.9 278,396 268.3,394"/>
<path class="k" d="M344.2,396.6 C338,399.3 322,400.3 308,400.3 C292,400.3 276,399 270.4,396.3 L268.3,394"/>
<path d="M160.6,379.5 L141.5,393.6" stroke="#000" stroke-width="1.5" fill="none"/><path d="M327.8,380.2 L346.9,394" stroke="#000" stroke-width="1.5" fill="none"/>
<path d="M541.5,35.3 C549,34.5 553,28.2 561,25.9 L564.5,25.4 L742,25.4 L745.2,29 L565,28.6 C556,29.5 552,36.3 541.5,37.2 Z" fill="#bdbdbd" stroke="none"/>
<path class="k" d="M517.7,35.2 C522,24 532,13.6 545.5,11.8 L565.3,11.8 M582.8,10.6 L656.3,10.9 M672,12 C680,11.8 690,12.5 703.2,14.9 L718.9,18 L734.5,21.3 C739.5,22.6 743.3,25 745.5,28.4"/>
<path class="m" d="M520.3,34.8 C524.5,25 533.5,15.6 545.8,13.6 L563,13.4"/>
<rect x="582.8" y="10.6" width="73.5" height="3.9" fill="#d6d6d6" stroke="none"/>
<path class="m" d="M582.8,10.4 L582.8,14.6 L656.3,14.6 M582.8,10.8 L656.3,10.8"/>
<path d="M672,12 C680,11.8 690,12.5 703.2,14.9 L718.9,18 L734.5,21.3 C739.5,22.6 743.3,25 745.5,28.4" stroke="#222" stroke-width="1.3" fill="none" stroke-dasharray="2.2,.35"/>
<path class="m" d="M565.3,11.8 L569,13.2 L582.8,14.4 M570,12 L582.8,11.5 M656.3,11 L660,12.8 L672,12.2 M656.3,14.6 L668,13.5"/>
<path class="k" d="M517.5,35.4 L541,35.4 C548.5,34.6 553,28.2 561,25.9 L564.5,25.4 L742,25.4"/>
<path class="k" d="M517.5,35.4 L518.3,37.6 L541.5,37.3 C552,36.3 556,29.6 565,28.7 L745.2,29.1 C746,28.9 746,28.4 745.5,28.2"/>
<path class="m" d="M564.7,12 L564.7,25.4 M549,13.2 L551,26.8 M553.6,13 L551.6,26.8"/>
<path class="m" d="M674.7,12.3 L674.7,25.4 M703.5,15 C702,19 701.5,22 701.5,25.4 M719,18 C717.6,21 717,23 717,25.4 M738,22.5 C740.5,24 742,26 742.5,28.8"/>
<path class="g" d="M565,27 L744,27.2"/>
<path class="m" d="M532.3,37.5 L532.3,133 C528,137 524.6,143 524.6,152 L524.6,226.5"/>
<path class="m" d="M539.4,37.5 L539.4,127.7 L559,107.5 M558.8,28.6 L558.8,107.5 M558.8,117.6 L558.8,226.5 M559,117.6 L535.5,140.4 C533,143.5 531.6,147 531.6,152 L531.6,226.5"/>
<path class="m" d="M566,28.6 L566,226.5"/>
<path class="g" d="M532.3,40.6 L539.4,40.6 M532.3,133 L536.3,133.4 M530,136.2 L535.5,140.4 M524.6,152 L531.6,152 M559,107.5 L560.5,109.5"/>
<path d="M531.7,221.5 L531.7,201.5 L547.5,201.5 C548.8,201.5 549.5,202.3 549.5,203.5 L549.5,221.5 Z" fill="#fff" stroke="#666" stroke-width=".5"/>
<path d="M531.9,204 L549.3,204 M531.9,210 L549.3,210" stroke="#858585" stroke-width="5.5" fill="none"/>
<path d="M531.9,214.5 L549.3,214.5" stroke="#999" stroke-width="2" fill="none"/>
<path d="M531.9,217.8 L549.3,217.8 M531.9,220.8 L549.3,220.8" stroke="#aaa" stroke-width="1.3" fill="none"/>
<path d="M538.3,202.5 L538.3,221" stroke="#555" stroke-width=".8" fill="none"/><path d="M539.2,202.5 L539.2,221" stroke="#eee" stroke-width=".6" fill="none"/>
<path d="M534.3,221.6 L553.5,221.6 C554.8,221.6 555.4,223 555.4,226.2 L534.3,226.2 Z" fill="#888" stroke="#555" stroke-width=".6"/>
<path class="m" d="M524.4,226.5 C525,230 531,230 531.6,226.5 M558.6,226.5 C559.3,230 565.5,230 566.2,226.5 M520.5,226 C520.5,223 522,221.6 524.4,221.6"/>
<path class="m" d="M587.7,226.4 L576.1,169.8 C575.5,166.5 577.5,165 580,165.1 C584,165.3 588.5,169 592.2,175 C597,183 600,191 601.3,199 C602.6,208 603,218 608.5,227"/>
<path class="m" d="M580.6,171.5 L593,226.6 M583.2,170 L597.7,226.8 M578.6,182.4 C583.5,181.8 588.5,180 593,176.6"/>
<path d="M580,165.6 C582.5,165.8 585,167 587,169" stroke="#111" stroke-width="1.3" fill="none"/>
<path class="g" d="M578,166.5 L580.6,171.5 M577,169 L583.2,170"/>
<path class="m" d="M608.5,227 C615,228.8 621,229.8 628,230.4 C640,231 647,232 653,233.2 C660,234.6 665,237 667.5,240 C669,241.6 670,243 670.8,244.7"/>
<path class="g" d="M628,230.4 C640,233 652,236 660,239.5 M660,236.5 L664,242"/>
<path class="k" d="M516,225.7 L575,226.1 C600,227.6 630,232 655,237.2 C667,240 674,247 680.2,260 C686,273 690,286 693.3,297 C697,310 699.5,322 701,336.6"/>
<path class="m" d="M514.8,230.3 L575,230.6"/>
<path d="M575,231.2 C600,232.6 630,237.2 655,242.6 C664,244.8 670.5,251.5 676.3,264.5 C681,276 684.3,287 687.2,297 C690.8,310 693.3,322 694.8,336.6" stroke="#8a8a8a" stroke-width="2" fill="none" stroke-dasharray="1.5,.4"/>
<path class="k" d="M514.5,240.7 L586,240.7 C600,241 620,243.8 640,248.4 C654,251.6 661,256.5 665,263 C670,271 674,283 680.2,305.8 C683,318 685,328 685.7,336.6"/>
<path class="m" d="M586,242.1 C600,242.4 620,245.2 640,249.9 C653,253 659.5,257.5 663.5,264 C668.5,272 672.5,284 678.6,306 C681.4,318 683.3,328 684,336.6"/>
<path class="m" d="M574.4,226.1 L574.4,230.6 M586,226.8 L586,231.3"/>
<path class="k" d="M516,225.7 C515,226 514.6,227 514.6,228.5 L514.6,240.7 L511.2,245 L511.2,258.4 C512,275 513,290 514.3,300 C516,312 519,322 521.5,330.5 C525,344 528,355 530.6,365 C533.5,376 536,387 537.7,394.3 C539,398 545,398.6 553,397.5"/>
<path class="m" d="M512.9,259.5 C513.6,275 514.6,290 515.9,300 C517.6,312 520.5,322 523,330.5 C526.5,344 529.5,355 532.2,365 L538.5,390"/>
<path class="k" d="M511.2,258.4 L534,258.4 C537.5,258.4 539.3,260 540.8,263 L567.4,316 L572.4,324.4 C575,328.5 577,330 580.5,330.6 C595,332 613,333.6 640,335 C660,336 684,336.8 701,337"/>
<path class="m" d="M511.5,260 L533.5,260 C536.5,260 538,261.3 539.3,264 L566,317 L571,325.5 C573.7,329.8 576,331.6 580,332.2 C595,333.6 613,335.2 640,336.6 L697,338.5"/>
<path class="m" d="M515.5,307 L561.5,306.5 M521.2,329.6 L573.6,329.4"/>
<circle class="m" cx="527.9" cy="247.4" r="1.6"/><circle class="m" cx="562.3" cy="247.4" r="1.6"/>
<path class="m" d="M508,261.6 C507.5,266 507.8,268 508,270.4 C506.4,275 506,282 506.6,287 C507,290.5 507.8,293 509,296"/>
<path d="M508.4,263.5 C509.2,268 510.3,273 511.3,279" stroke="#111" stroke-width="1.5" fill="none"/>
<path class="m" d="M509,271 C508,277 508.2,284 509.5,291 M510.8,280 C509.5,285 509.8,290 510.8,294 M508.6,295.6 L508.6,299.6 L512.5,299.6 L512.5,295.6 Z"/>
<path d="M549.5,362 A32.3,32.3 0 0 1 605.6,372.5 L601,374.5 A27.6,27.6 0 0 0 552.5,364.5 Z" fill="#d8d8d8" stroke="none"/>
<path class="k" d="M530.6,366.4 L543,366.4 C545.5,366 546,364 548,363.3 C549,363 549.6,362.6 550.2,361.5 A32.3,32.3 0 0 1 605.8,373.5 L606,378"/>
<path class="m" d="M544,367.8 C547,367.4 548,365.8 549.6,365 C550.6,364.6 551.3,364 552,363 A30.3,30.3 0 0 1 603.8,374.5"/>
<path class="k" d="M546.5,368.8 C549,368.2 550.6,367 552,365.5 C552.7,364.8 553.2,364.3 553.8,363.5 A27.6,27.6 0 0 1 601.5,375.5 L602.3,379"/>
<path class="m" d="M537.7,396 L552,396"/>
<circle cx="574.3" cy="380.1" r="25.3" fill="#fff" stroke="#111" stroke-width="1"/>
<circle class="m" cx="574.3" cy="380.1" r="23.4"/>
<circle class="k" cx="574.3" cy="380.1" r="20.3"/>
<path class="k" d="M581.9,378.5 L592.4,376.4 L592.4,383.8 L581.9,381.7 Z M581.4,383.3 L591.1,387.8 L586.8,393.7 L579.6,385.9 Z M578.1,386.9 L583.4,396.2 L576.4,398.5 L575.2,387.8 Z M573.4,387.8 L572.2,398.5 L565.2,396.2 L570.5,386.9 Z M569.0,385.9 L561.8,393.7 L557.5,387.8 L567.2,383.3 Z M566.7,381.7 L556.2,383.8 L556.2,376.4 L566.7,378.5 Z M567.2,376.9 L557.5,372.4 L561.8,366.5 L569.0,374.3 Z M570.5,373.3 L565.2,364.0 L572.2,361.7 L573.4,372.4 Z M575.2,372.4 L576.4,361.7 L583.4,364.0 L578.1,373.3 Z M579.6,374.3 L586.8,366.5 L591.1,372.4 L581.4,376.9 Z"/>
<circle class="k" cx="574.3" cy="380.1" r="6.3"/><circle class="m" cx="574.3" cy="380.1" r="3.8"/><circle class="g" cx="574.3" cy="380.1" r="2.2"/>
<path class="m" d="M612,334 L612,359"/>
<path class="k" d="M604.3,392.8 L604.3,378 A31.8,31.8 0 0 1 667.9,378 L667.9,387.5"/>
<path class="k" d="M609.3,392.8 L609.3,378 A26.8,26.8 0 0 1 662.9,378 L662.9,392.8"/>
<path class="m" d="M605.8,376.5 C606.5,381 606,385.5 607.5,387.5 C608.3,388.5 609.3,388 609.3,386.5 M603.5,379 C603.8,384 604,387 606,389 M662.9,381 L667.9,381 M667.9,387.5 L672,388.5"/>
<circle class="k" cx="641" cy="377.8" r="9.8"/>
<ellipse class="k" cx="640.6" cy="370" rx="2.4" ry="1.5" transform="rotate(-35 640.6 370)"/>
<ellipse class="k" cx="640.6" cy="386.8" rx="2.4" ry="1.5" transform="rotate(-35 640.6 386.8)"/>
<circle class="m" cx="634.3" cy="378.9" r=".9"/>
<circle class="m" cx="625.1" cy="361.2" r="1.2"/><circle class="m" cx="612.8" cy="389" r="1.2"/><circle class="m" cx="657.8" cy="389" r="1.2"/>
<path class="k" d="M604.3,392.8 L663.6,392.8 L663.6,406 L604.3,406 Z"/>
<path d="M604.3,406.3 L663.6,406.3" stroke="#111" stroke-width="1.4"/>
<path d="M628,393.6 C632,395.6 640,395.6 644,393.6" stroke="#222" stroke-width="1.2" fill="none"/>
<path d="M680.2,260 C686,273 690,286 693.3,297 C697,310 699.5,322 701,336.6" stroke="#111" stroke-width="1.3" fill="none"/>
<path class="k" d="M697,337 L769.5,337"/>
<path class="m" d="M769.5,337 L769.8,362 M771.4,338 L771.6,362"/>
<path class="m" d="M697,338.8 L769.5,338.8"/>
<path class="m" d="M697.5,338.8 L697.5,372 M699.2,338.8 L699.2,371"/>
<path class="k" d="M703.8,338.8 L703.8,342.5 C703.8,343.6 704.4,344 705.5,344 L718.3,344 C719.4,344 720,343.6 720,342.5 L720,338.8"/>
<path class="g" d="M704.5,341.8 L719.5,341.8"/>
<path class="m" d="M701,332 C701,329.5 702.5,328.2 705,328.2 L711.8,327.8"/>
<path class="m" d="M732,372.9 L747,372.9"/>
<path class="m" d="M780.3,361.3 L755,361.3 C750,361.3 747.1,364.5 747.1,369 L747.1,378 C747.1,382.5 750,385.6 755,385.6 L780.3,385.6"/>
<path class="m" d="M778,365 L757,365 C754,365 752.2,367 752.2,369.5 L752.2,377.5 C752.2,380 754,381.7 757,381.7 L778,381.7"/>
<path class="g" d="M775,363.2 L756,363.2 C752,363.2 749.6,365.6 749.6,369.3 L749.6,377.8 C749.6,381.4 752,383.7 756,383.7 L775,383.7"/>
<path class="m" d="M766.2,365 L766.2,381.7 M770,365 L770,381.7 M772,366 L772,381 M776.4,366 L776.4,381 M752.2,372.8 L765.5,372.8 M778.3,361.3 L778.3,385.6"/>
<path class="m" d="M774.6,361 L774.6,341.5 C774.6,341 775,340.8 775.5,340.8 L779.5,340.8 C780,340.8 780.3,341 780.3,341.5 L780.3,386"/>
<path class="g" d="M774.6,345.5 L780.3,345.5 M774.6,350.5 L780.3,350.5 M774.6,355.5 L780.3,355.5"/>
<defs><clipPath id="csb"><polygon points="673.5,388.6 695.2,375.1 730.9,378.6 751,396.2 747.4,400.2 708,397.3 676.5,393.7"/></clipPath></defs>
<defs><clipPath id="cfw"><rect x="690" y="394" width="50" height="20"/></clipPath></defs>
<g clip-path="url(#cfw)"><circle class="k" cx="714.3" cy="389.5" r="17.2"/><circle class="m" cx="714.3" cy="389.5" r="14.2"/></g>
<polygon points="673.5,388.6 695.2,375.1 730.9,378.6 751,396.2 747.4,400.2 708,397.3 676.5,393.7" fill="#fff"/>
<g clip-path="url(#csb)" stroke="#333" stroke-width=".36"><line x1="750.9" y1="397.9" x2="731.0" y2="378.6"/><line x1="750.8" y1="398.0" x2="731.0" y2="378.7"/><line x1="750.7" y1="398.2" x2="730.9" y2="378.8"/><line x1="750.4" y1="398.3" x2="730.7" y2="378.9"/><line x1="749.9" y1="398.4" x2="730.5" y2="379.0"/><line x1="749.4" y1="398.5" x2="730.3" y2="379.0"/><line x1="748.7" y1="398.6" x2="730.0" y2="379.1"/><line x1="748.0" y1="398.6" x2="729.6" y2="379.2"/><line x1="747.1" y1="398.7" x2="729.2" y2="379.2"/><line x1="746.1" y1="398.7" x2="728.8" y2="379.3"/><line x1="745.0" y1="398.8" x2="728.2" y2="379.3"/><line x1="743.8" y1="398.8" x2="727.7" y2="379.4"/><line x1="742.5" y1="398.8" x2="727.1" y2="379.4"/><line x1="741.1" y1="398.8" x2="726.4" y2="379.4"/><line x1="739.6" y1="398.8" x2="725.7" y2="379.5"/><line x1="738.0" y1="398.7" x2="725.0" y2="379.5"/><line x1="736.4" y1="398.7" x2="724.2" y2="379.5"/><line x1="734.6" y1="398.6" x2="723.4" y2="379.4"/><line x1="732.8" y1="398.6" x2="722.6" y2="379.4"/><line x1="731.0" y1="398.5" x2="721.7" y2="379.4"/><line x1="729.0" y1="398.4" x2="720.8" y2="379.4"/><line x1="727.1" y1="398.3" x2="719.9" y2="379.3"/><line x1="725.0" y1="398.1" x2="718.9" y2="379.3"/><line x1="723.0" y1="398.0" x2="718.0" y2="379.2"/><line x1="720.9" y1="397.9" x2="717.0" y2="379.1"/><line x1="718.8" y1="397.7" x2="716.0" y2="379.1"/><line x1="716.6" y1="397.6" x2="715.0" y2="379.0"/><line x1="714.5" y1="397.4" x2="714.0" y2="378.9"/><line x1="712.3" y1="397.2" x2="713.0" y2="378.8"/><line x1="710.1" y1="397.0" x2="712.0" y2="378.7"/><line x1="708.0" y1="396.8" x2="711.0" y2="378.6"/><line x1="705.8" y1="396.6" x2="710.0" y2="378.5"/><line x1="703.7" y1="396.4" x2="709.0" y2="378.4"/><line x1="701.6" y1="396.2" x2="708.0" y2="378.2"/><line x1="699.6" y1="396.0" x2="707.1" y2="378.1"/><line x1="697.5" y1="395.7" x2="706.1" y2="378.0"/><line x1="695.6" y1="395.5" x2="705.2" y2="377.8"/><line x1="693.6" y1="395.3" x2="704.3" y2="377.7"/><line x1="691.8" y1="395.0" x2="703.4" y2="377.6"/><line x1="690.0" y1="394.8" x2="702.6" y2="377.4"/><line x1="688.2" y1="394.6" x2="701.8" y2="377.3"/><line x1="686.6" y1="394.3" x2="701.0" y2="377.1"/><line x1="685.0" y1="394.1" x2="700.3" y2="377.0"/><line x1="683.5" y1="393.9" x2="699.6" y2="376.8"/><line x1="682.1" y1="393.6" x2="698.9" y2="376.7"/><line x1="680.8" y1="393.4" x2="698.3" y2="376.5"/><line x1="679.6" y1="393.2" x2="697.8" y2="376.4"/><line x1="678.5" y1="393.0" x2="697.2" y2="376.2"/><line x1="677.5" y1="392.8" x2="696.8" y2="376.1"/><line x1="676.6" y1="392.5" x2="696.4" y2="375.9"/><line x1="675.9" y1="392.3" x2="696.0" y2="375.8"/><line x1="675.2" y1="392.1" x2="695.7" y2="375.7"/><line x1="674.7" y1="392.0" x2="695.5" y2="375.5"/><line x1="674.2" y1="391.8" x2="695.3" y2="375.4"/><line x1="673.9" y1="391.6" x2="695.1" y2="375.3"/><line x1="673.8" y1="391.5" x2="695.0" y2="375.2"/><line x1="673.7" y1="391.3" x2="695.0" y2="375.1"/><path d="M674.5,391.4 L708,395.2 L749,397.9" stroke="#333" stroke-width="4.2" fill="none" stroke-dasharray=".65,.6"/></g>
<path class="k" d="M673.5,388.6 L695.2,375.1 L730.9,378.6 L751,396.2 L747.4,400.2 L708,397.3 L676.5,393.7 Z"/>
<path d="M695.2,375.1 L673.5,388.6 L676.5,393.7 M695.2,375.1 L730.9,378.6 L751,396.2 L747.4,400.2" stroke="#000" stroke-width="1.15" fill="none" stroke-linejoin="round"/>
<path class="m" d="M675.5,389.6 L708.2,392.8 L748.5,395.3"/>
<path class="k" d="M699,374.6 L701.2,371.6 L729.3,374.6 L730.5,378 M705.5,372.1 L705.3,375.8 M725.5,374.2 L725.3,377.8"/>
<path class="m" d="M732.4,374 C734.5,376 736.3,379 737.4,382 M730.5,376 L732.4,374"/>
<path class="k" d="M748.7,201.4 L758.6,201.4 L763.4,205.6 C764,206.2 764.2,206.8 764.3,207.6 L766.3,230 C767,245 767.8,260 768.4,275 C769,295 769.4,315 769.7,337"/>
<path class="m" d="M748.7,201.6 C748.9,206 749.8,210 750.9,212.8 C752.8,232 754.2,255 755.3,275 C756,295 757,318 757.6,337"/>
<path class="m" d="M758.4,214 C760.6,235 762,255 763,275 C763.7,295 764.2,315 764.6,337"/>
<path class="g" d="M753.2,214 C755.2,235 756.6,255 757.6,275 C758.4,295 759.3,318 759.8,337 M761,214 C763,238 764.3,260 765.2,280 C765.8,300 766.4,318 766.8,337"/>
<path class="m" d="M750.9,213 L764.6,213.4 M757.8,201.6 L758.4,213.2"/>
<path class="k" d="M740.6,262 L740.6,336.6 M743,262 L743,336.6"/>
<path class="k" d="M750.2,208.9 L727,221.3 C724,222.8 721.9,223.6 721.8,225.5 L721.8,246.6 M721.8,224.9 L750.5,224.9"/>
<path class="m" d="M750.2,211 L727.6,223 M724.3,226.2 L724.3,246 M721.8,225.6 L724.3,226.5"/>
<path d="M721.8,246.6 L751.6,249.4 L751.4,251 L724.5,248.4 Z" fill="#aaa" stroke="#333" stroke-width=".6"/>
<path class="k" d="M723,247.4 C730,249 736,252 739.3,256.5 C741,259 742,261 742.2,264"/>
<path class="m" d="M726,250 C731,251.2 735.5,254.3 738,258 C739.6,260.4 740.4,262 740.6,264"/>
<circle class="m" cx="748.4" cy="253.3" r="1.3"/>
<path class="m" d="M724.8,218.2 C724.2,216.3 725.5,215.2 726.8,215.8 C727.8,216.3 728,217.5 728.2,219.5 M731.5,213.5 L733.5,216.8 L736.5,215.8"/>
<path class="k" d="M722.3,270 C721.8,271 722.4,272 723.4,272.2 C728,273.8 734,277.2 740.4,277.4 M723.8,269.3 C729,271.4 735,274.2 740.4,274.6 M722.3,270 C722.4,269.3 723.2,269 723.8,269.3"/>
<rect x="733.2" y="278.8" width="6.8" height="3.8" fill="#111"/>
<path class="k" d="M731.2,332.6 C730.3,333.6 731,335.4 732.6,335.6 C733.6,335.7 734.3,335.4 735,334.9 L751.3,323.3 C752.4,322.4 752.2,320.6 750.8,320 C750.2,319.7 749.6,319.8 749,320.2"/>
<path d="M731.2,332.6 C736,327.5 743,322.8 749,320.2" stroke="#111" stroke-width="1.5" fill="none"/>
<circle class="m" cx="733.3" cy="333.6" r="1"/><circle class="m" cx="748.6" cy="325.6" r="1"/>
<path class="g" d="M744,331 L752,331 L752,336.6 M738,336.6 L738,333.5"/>
<g transform="rotate(-23.9 732.6 180.7)"><rect x="700.3" y="177.9" width="64.6" height="5.6" rx="2.8" fill="#fff" stroke="#111" stroke-width=".9"/><path class="g" d="M702,180.7 L763,180.7"/><path d="M713,178 L713,183.4 M716,178 L716,183.4 M749.5,178 L749.5,183.4 M752.5,178 L752.5,183.4" stroke="#111" stroke-width="1.1"/><path class="k" d="M725.5,183.5 L725.5,197.8 L745.5,197.8 L745.5,183.5 M725.5,194.8 L745.5,194.8 M724.5,197.8 L724.5,201.6 L744.5,201.6 L744.5,197.8"/><path class="m" d="M717.5,183.5 L717.5,191 L724.5,191 M719.5,183.5 L719.5,191 M722,191 L722,194 L724.5,194"/><path class="g" d="M744.5,186 C746,188 746.5,192 745.5,196"/><path class="m" d="M727,201.2 L727,207 M741,201.2 L741,207"/></g>
</svg>
</body></html>
